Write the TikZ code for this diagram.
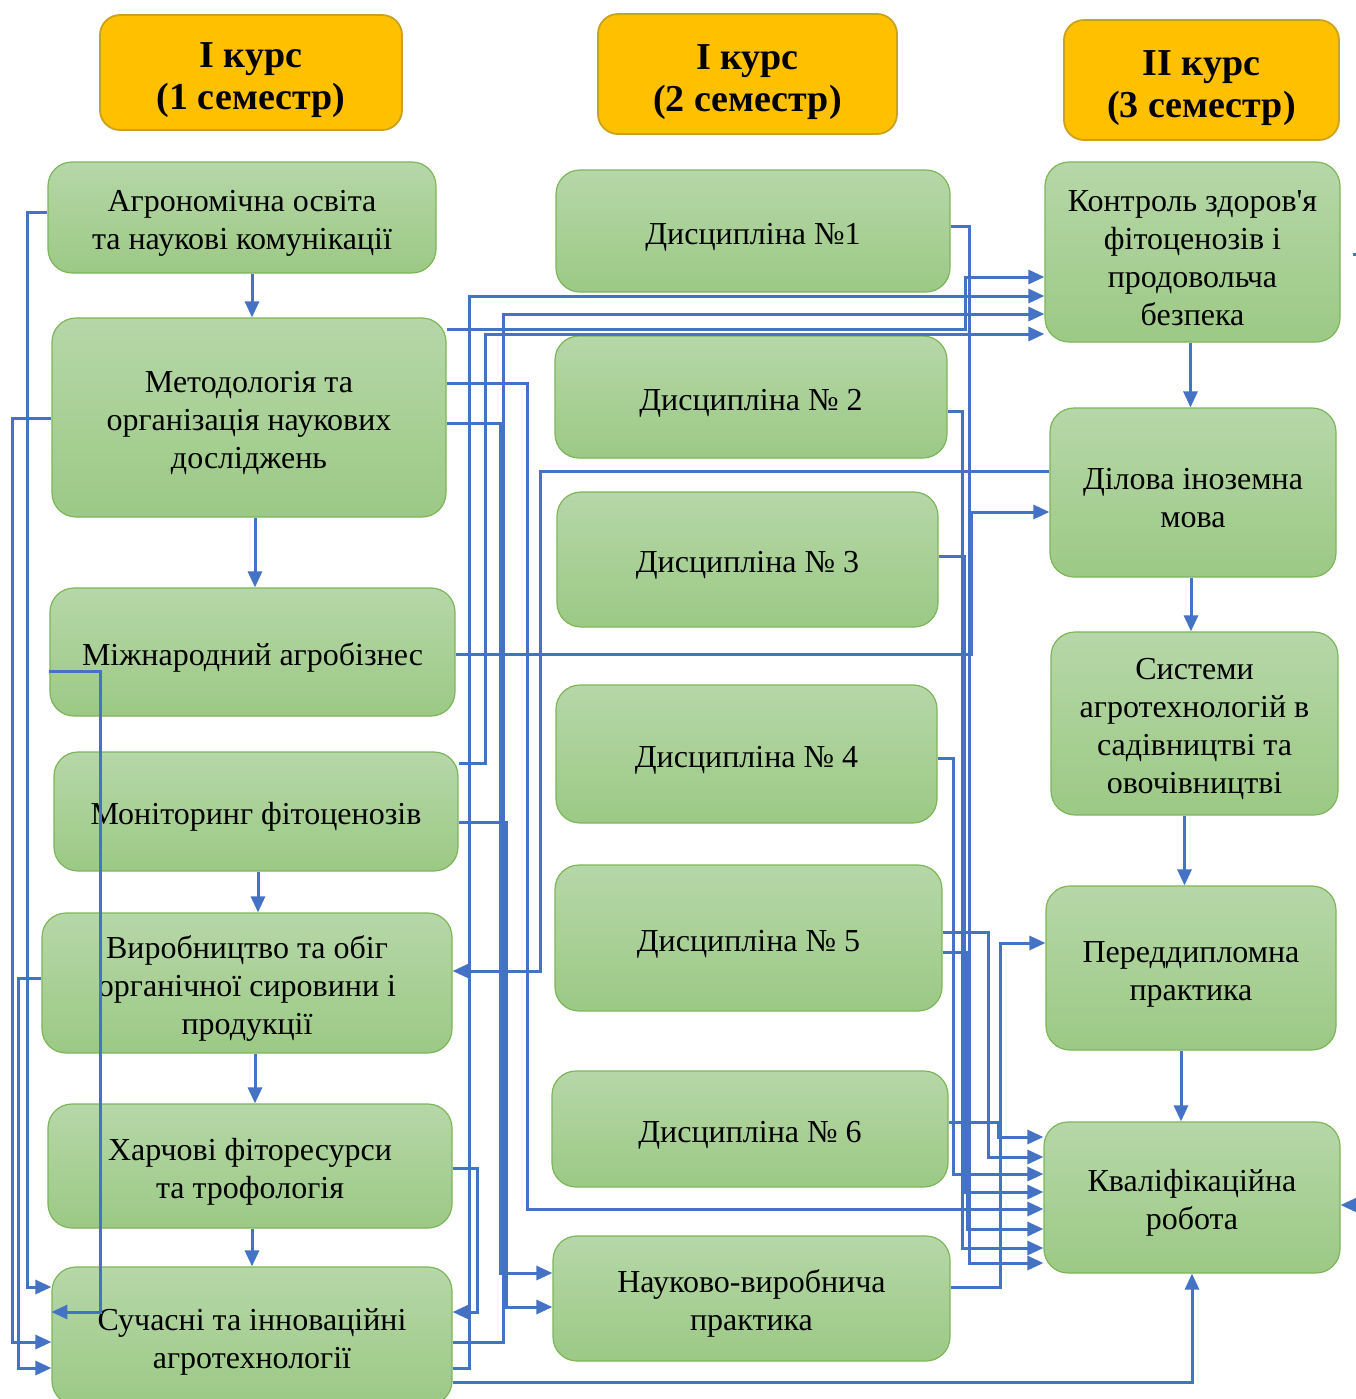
\documentclass[tikz,border=0pt]{standalone}
\usepackage{fontspec}
\setmainfont{Liberation Serif}
\usepackage{xcolor}
\usepackage{tikz}
\usetikzlibrary{shapes,arrows.meta,calc}
\definecolor{hdrFill}{HTML}{FFC000}
\definecolor{hdrDraw}{HTML}{C9A21E}
\definecolor{boxTop}{HTML}{B6D7A8}
\definecolor{boxBottom}{HTML}{9CC985}
\definecolor{boxDraw}{HTML}{7DB65A}
\definecolor{lineBlue}{HTML}{4472C4}
% struts that push the first line down a little
\newcommand{\tsTopBox}{\rule{0pt}{16.5pt}}
\newcommand{\tsTopHdr}{\rule{0pt}{20.5pt}}
\tikzstyle{tsText} = [
    text=black,
    font=\fontsize{16}{19}\selectfont,
    align=center
]
\tikzstyle{tsHeader} = [
    rectangle,
    rounded corners=10pt,
    draw=hdrDraw,
    line width=0.9pt,
    fill=hdrFill,
    text=black,
    font=\fontsize{19}{21}\selectfont\bfseries,
    align=center]
\tikzstyle{tsBox} = [
    rectangle,
    tsText,
    rounded corners=12pt,
    draw=boxDraw,
    line width=0.6pt,
    top color=boxTop,
    bottom color=boxBottom]
\tikzstyle{tsLine} = [
    draw=lineBlue,
    line width=1.5pt]
\tikzstyle{tsArrow} = [
    tsLine,
    -{Triangle[length=8pt,width=7pt]}]

\begin{document}
\begin{tikzpicture}[x=0.5pt, y=-0.5pt]

        \useasboundingbox (0,0) rectangle (1356,1399);
        \clip (0,0) rectangle (1356,1399);

        % headers
        \node[tsHeader, minimum width=151pt, minimum height=57.5pt] (hdrSemA) at (251,72.5) {\tsTopHdr І курс\\(1 семестр)};
        \node[tsHeader, minimum width=149.5pt, minimum height=60pt] (hdrSemB) at (747.5,74) {\tsTopHdr І курс\\(2 семестр)};
        \node[tsHeader, minimum width=137.5pt, minimum height=60pt] (hdrSemC) at (1201.5,80) {\tsTopHdr ІІ курс\\(3 семестр)};

        % first column
        \node[tsBox, minimum width=194pt, minimum height=55.5pt] (agroEdu) at (242,217.5) {\tsTopBox Агрономічна освіта\\та наукові комунікації};
        \node[tsBox, minimum width=197pt, minimum height=99.5pt] (methRes) at (249,417.5) {\tsTopBox Методологія та\\організація наукових\\досліджень};
        \node[tsBox, minimum width=202.5pt, minimum height=64pt] (intBiz) at (252.5,652) {\tsTopBox Міжнародний агробізнес};
        \node[tsBox, minimum width=202pt, minimum height=59.5pt] (monPhyto) at (256,811.5) {\tsTopBox Моніторинг фітоценозів};
        \node[tsBox, minimum width=205pt, minimum height=70pt] (orgProd) at (247,983) {\tsTopBox Виробництво та обіг\\органічної сировини і\\продукції};
        \node[tsBox, minimum width=202pt, minimum height=62pt] (foodRes) at (250,1166) {\tsTopBox Харчові фіторесурси\\та трофологія};
        \node[tsBox, minimum width=200pt, minimum height=69pt] (modTech) at (252,1336) {\tsTopBox Сучасні та інноваційні\\агротехнології};

        % second column
        \node[tsBox, minimum width=197pt, minimum height=61pt] (disc1) at (753,231) {\tsTopBox Дисципліна №1};
        \node[tsBox, minimum width=196pt, minimum height=61pt] (disc2) at (751,397) {\tsTopBox Дисципліна № 2};
        \node[tsBox, minimum width=190.5pt, minimum height=67.5pt] (disc3) at (747.5,559.5) {\tsTopBox Дисципліна № 3};
        \node[tsBox, minimum width=190.5pt, minimum height=69pt] (disc4) at (746.5,754) {\tsTopBox Дисципліна № 4};
        \node[tsBox, minimum width=193.5pt, minimum height=73pt] (disc5) at (748.5,938) {\tsTopBox Дисципліна № 5};
        \node[tsBox, minimum width=198pt, minimum height=58pt] (disc6) at (750,1129) {\tsTopBox Дисципліна № 6};
        \node[tsBox, minimum width=198.5pt, minimum height=62.5pt] (resPract) at (751.5,1298.5) {\tsTopBox Науково-виробнича\\практика};

        % third column
        \node[tsBox, minimum width=147.5pt, minimum height=90pt] (healthCtl) at (1192.5,252) {\tsTopBox Контроль здоров\textquotesingle я\\фітоценозів і\\продовольча\\безпека};
        \node[tsBox, minimum width=143pt, minimum height=84.5pt] (bizLang) at (1193,492.5) {\tsTopBox Ділова іноземна\\мова};
        \node[tsBox, minimum width=143.5pt, minimum height=91.5pt] (sysAgro) at (1194.5,723.5) {\tsTopBox Системи\\агротехнологій в\\садівництві та\\овочівництві};
        \node[tsBox, minimum width=145pt, minimum height=82pt] (prePract) at (1191,968) {\tsTopBox Переддипломна\\практика};
        \node[tsBox, minimum width=148pt, minimum height=75.5pt] (qualWork) at (1192,1197.5) {\tsTopBox Кваліфікаційна\\робота};

        % arrows down the columns
        \draw[tsArrow] ([xshift=5pt]agroEdu.south) -- ([xshift=5pt]agroEdu.south |- methRes.north);
        \draw[tsArrow] ([xshift=3pt]methRes.south) -- ([xshift=3pt]methRes.south |- intBiz.north);
        \draw[tsArrow] ([xshift=1pt]monPhyto.south) -- ([xshift=1pt]monPhyto.south |- orgProd.north);
        \draw[tsArrow] ([xshift=4pt]orgProd.south) -- ([xshift=4pt]orgProd.south |- foodRes.north);
        \draw[tsArrow] ([xshift=1pt]foodRes.south) -- ([xshift=1pt]foodRes.south |- modTech.north);
        \draw[tsArrow] ([xshift=-1pt]healthCtl.south) -- ([xshift=-1pt]healthCtl.south |- bizLang.north);
        \draw[tsArrow] ([xshift=-1pt]bizLang.south) -- ([xshift=-1pt]bizLang.south |- sysAgro.north);
        \draw[tsArrow] ([xshift=-5pt]sysAgro.south) -- ([xshift=-5pt]sysAgro.south |- prePract.north);
        \draw[tsArrow] ([xshift=-5pt]prePract.south) -- ([xshift=-5pt]prePract.south |- qualWork.north);

        % loops on the left
        \draw[tsArrow] (agroEdu.west |- 0,212) -- (27,212) -- (27,1287) -- (modTech.west |- 0,1287);
        \draw[tsArrow] (methRes.west |- 0,418) -- (12,418) -- (12,1342) -- (modTech.west |- 0,1342);
        \draw[tsArrow] (orgProd.west |- 0,978) -- (18,978) -- (18,1368) -- (modTech.west |- 0,1368);
        \draw[tsArrow] (intBiz.west |- 0,671) -- (100,671) -- (100,1312) -- (modTech.west |- 0,1312);

        % first column to the right
        \draw[tsArrow] (methRes.east |- 0,329) -- (965,329) -- (965,277) -- (healthCtl.west |- 0,277);
        \draw[tsArrow] (modTech.east |- 0,1368) -- (469,1368) -- (469,296) -- (healthCtl.west |- 0,296);
        \draw[tsArrow] (modTech.east |- 0,1342) -- (503,1342) -- (503,314) -- (healthCtl.west |- 0,314);
        \draw[tsArrow] (monPhyto.east |- 0,763) -- (485,763) -- (485,334) -- (healthCtl.west |- 0,334);
        \draw[tsArrow] (intBiz.east |- 0,654) -- (971,654) -- (971,512) -- (bizLang.west |- 0,512);
        \draw[tsArrow] (bizLang.west |- 0,471) -- (540,471) -- (540,971) -- (orgProd.east |- 0,971);
        \draw[tsArrow] (methRes.east |- 0,423) -- (500,423) -- (500,1273) -- (resPract.west |- 0,1273);
        \draw[tsArrow] (monPhyto.east |- 0,822) -- (506,822) -- (506,1307) -- (resPract.west |- 0,1307);
        \draw[tsArrow] (methRes.east |- 0,383) -- (527,383) -- (527,1209) -- (qualWork.west |- 0,1209);
        \draw[tsArrow] (foodRes.east |- 0,1168) -- (477,1168) -- (477,1312) -- (modTech.east |- 0,1312);
        \draw[tsArrow] (modTech.east |- 0,1382) -| (qualWork.south);

        % second column to the right
        \draw[tsArrow] (disc1.east |- 0,226) -- (969,226) -- (969,1263) -- (qualWork.west |- 0,1263);
        \draw[tsArrow] (disc2.east |- 0,411) -- (962,411) -- (962,1248) -- (qualWork.west |- 0,1248);
        \draw[tsArrow] (disc3.east |- 0,556) -- (964,556) -- (964,1192) -- (qualWork.west |- 0,1192);
        \draw[tsArrow] (disc4.east |- 0,758) -- (953,758) -- (953,1174) -- (qualWork.west |- 0,1174);
        \draw[tsArrow] (disc5.east |- 0,932) -- (988,932) -- (988,1157) -- (qualWork.west |- 0,1157);
        \draw[tsArrow] (disc5.east |- 0,952) -- (967,952) -- (967,1229) -- (qualWork.west |- 0,1229);
        \draw[tsArrow] (disc6.east |- 0,1122) -- (998,1122) -- (998,1137) -- (qualWork.west |- 0,1137);
        \draw[tsArrow] (resPract.east |- 0,1287) -- (1000,1287) -- (1000,943) -- (prePract.west |- 0,943);

        % stubs on the right edge
        \coordinate (rightStub) at (1362,1205);
        \draw[tsLine] (healthCtl.east |- 0,254) ++(12,0) -- ++(8,0);
        \draw[tsArrow] (rightStub) -- (qualWork.east |- rightStub);

\end{tikzpicture}
\end{document}
